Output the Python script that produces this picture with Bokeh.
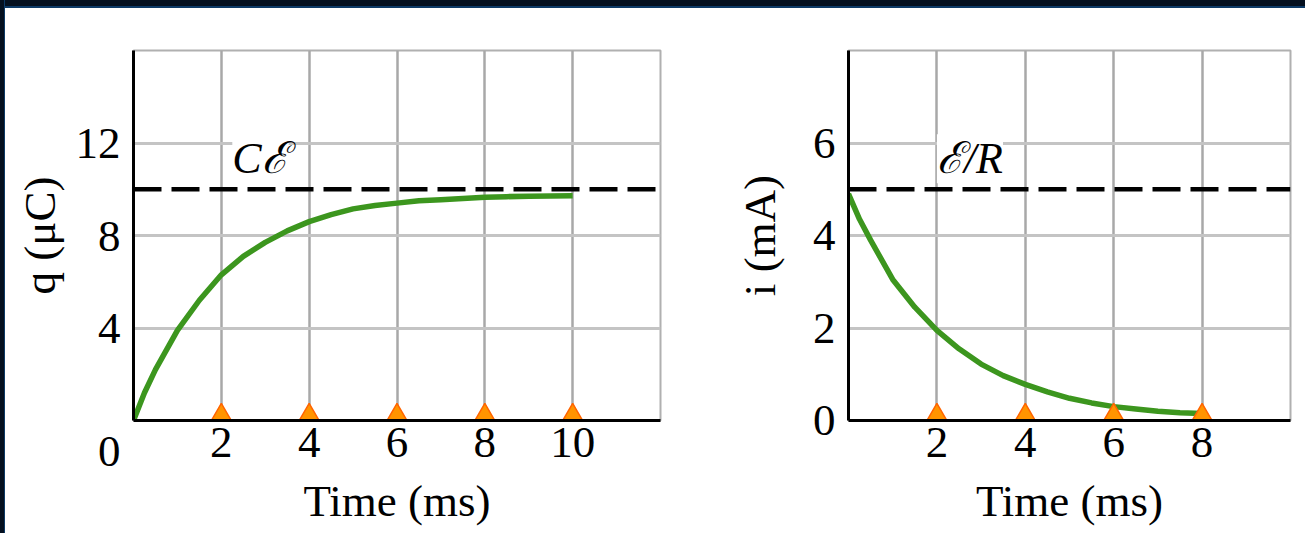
from bokeh.plotting import figure
from bokeh.layouts import row
from bokeh.models import Range1d, FixedTicker, Span, Label, GlobalInlineStyleSheet
from bokeh.embed import file_html
from bokeh.resources import INLINE
import math

# ---- data ----
t_charge = [0, 0.25, 0.5, 1, 1.5, 2, 2.5, 3, 3.5, 4, 4.5, 5, 5.5, 6, 6.5, 7, 7.5, 8, 8.5, 9, 9.5, 10]
q_charge = [0, 1.2, 2.2, 3.9, 5.2, 6.3, 7.1, 7.7, 8.2, 8.6, 8.9, 9.15, 9.3, 9.4, 9.5, 9.55, 9.6,
            9.65, 9.68, 9.7, 9.71, 9.72]
t_current = [0, 0.25, 0.5, 1, 1.5, 2, 2.5, 3, 3.5, 4, 4.5, 5, 5.5, 6, 6.5, 7, 7.5, 8]
i_current = [4.9, 4.35, 3.9, 3.05, 2.45, 1.95, 1.55, 1.22, 0.97, 0.78, 0.62, 0.48, 0.38, 0.3,
             0.25, 0.2, 0.17, 0.15]
marks_charge = [2, 4, 6, 8, 10]
marks_current = [2, 4, 6, 8]
q_limit = 10      # C·E asymptote
i_limit = 5       # E/R asymptote
xticks_charge = [2, 4, 6, 8, 10]
yticks_charge = [0, 4, 8, 12]
xticks_current = [2, 4, 6, 8]
yticks_current = [0, 2, 4, 6]
label_charge = "C\u2130"
label_current = "\u2130/R"
xlabel = "Time (ms)"
ylabel_charge = "q (\u03bcC)"
ylabel_current = "i (mA)"

FONT = "Liberation Serif"
FS = "45px"
GREEN = "#3c961e"
TRI_FILL = "#ff9400"
TRI_LINE = "#ff6400"
TRI_SIZE = 21
FRAME_H = 370


def make_fig(width, xr, yr, border_left, border_right, xt, yt, ylab, ystand):
    p = figure(width=width, height=533, x_range=Range1d(*xr), y_range=Range1d(*yr),
               output_backend="svg", toolbar_location=None,
               min_border_left=border_left, min_border_right=border_right,
               min_border_top=50, min_border_bottom=533 - 50 - FRAME_H)
    p.background_fill_color = "white"
    p.border_fill_color = "white"
    p.outline_line_color = "#b0b0b0"
    p.outline_line_width = 2
    p.xaxis.ticker = FixedTicker(ticks=xt)
    p.yaxis.ticker = FixedTicker(ticks=yt)
    p.xgrid.ticker = FixedTicker(ticks=xt)
    p.ygrid.ticker = FixedTicker(ticks=yt)
    p.xgrid.grid_line_color = "#a8a8a8"
    p.xgrid.grid_line_width = 2.5
    p.ygrid.grid_line_color = "#c4c4c4"
    p.ygrid.grid_line_width = 3
    for ax in (p.xaxis, p.yaxis):
        ax.axis_line_color = "black"
        ax.axis_line_width = 3
        ax.major_tick_line_color = None
        ax.minor_tick_line_color = None
        ax.major_label_text_font = FONT
        ax.major_label_text_font_size = FS
        ax.major_label_text_color = "black"
        ax.axis_label_text_font = FONT
        ax.axis_label_text_font_size = FS
        ax.axis_label_text_font_style = "normal"
        ax.axis_label_text_color = "black"
    p.xaxis.major_label_standoff = 1
    p.yaxis.major_label_standoff = 7
    p.xaxis.axis_label = xlabel
    p.xaxis.axis_label_standoff = 16
    p.yaxis.axis_label = ylab
    p.yaxis.axis_label_standoff = ystand
    return p


def marker_lift(yr):
    # raise triangle centroid so that its base sits on the x axis
    per_unit = FRAME_H / (yr[1] - yr[0])
    return (TRI_SIZE / 2 * math.sqrt(3) / 3 - 1) / per_unit


# ---- left: charge ----
yr1 = (0, 16)
p1 = make_fig(700, (0, 12), yr1, 133, 40, xticks_charge, yticks_charge, ylabel_charge, 8)
# the origin "0" sits in the corner below the axis, as in the reference
p1.yaxis.major_label_overrides = {0: "\n0"}
p1.ygrid.ticker = FixedTicker(ticks=[4, 8, 12])
p1.line(t_charge, q_charge, line_color=GREEN, line_width=5.5)
p1.add_layout(Span(location=q_limit, dimension="width", line_color="black",
                   line_width=4.5, line_dash="28 10"))
lift1 = marker_lift(yr1)
p1.scatter(marks_charge, [lift1] * len(marks_charge), marker="triangle", size=TRI_SIZE,
           fill_color=TRI_FILL, line_color=TRI_LINE, line_width=1.5)
p1.add_layout(Label(x=2.25, y=q_limit, y_offset=6, text=label_charge, text_font=FONT,
                    text_font_size="44px", text_font_style="italic", text_color="black",
                    background_fill_color="white"))

# ---- right: current ----
yr2 = (0, 8)
p2 = make_fig(605, (0, 10), yr2, 148, 15, xticks_current, yticks_current, ylabel_current, 25)
p2.ygrid.ticker = FixedTicker(ticks=[2, 4, 6])
p2.line(t_current, i_current, line_color=GREEN, line_width=5.5)
p2.add_layout(Span(location=i_limit, dimension="width", line_color="black",
                   line_width=4.5, line_dash="28 10"))
lift2 = marker_lift(yr2)
p2.scatter(marks_current, [lift2] * len(marks_current), marker="triangle", size=TRI_SIZE,
           fill_color=TRI_FILL, line_color=TRI_LINE, line_width=1.5)
p2.add_layout(Label(x=2.0, y=i_limit, y_offset=6, text=label_current, text_font=FONT,
                    text_font_size="44px", text_font_style="italic", text_color="black",
                    background_fill_color="white"))

layout = row(p1, p2)
layout.stylesheets = [GlobalInlineStyleSheet(css=(
    "body::before{content:'';position:fixed;left:0;top:0;width:100vw;height:6px;"
    "background:#04101f;border-bottom:2px solid #0d3a66;z-index:9999;pointer-events:none;}"
    "body::after{content:'';position:fixed;left:0;top:0;width:4px;height:100vh;"
    "background:#04101f;border-right:1px solid #0d3a66;z-index:9999;pointer-events:none;}"
))]

open("out.html", "w").write(file_html(layout, INLINE))
